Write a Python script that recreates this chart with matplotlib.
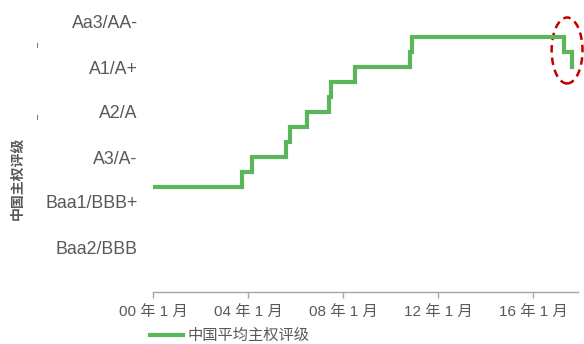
import matplotlib
matplotlib.use("Agg")
import matplotlib.pyplot as plt
import matplotlib.dates as mdates
from matplotlib.patches import Ellipse
from matplotlib.lines import Line2D
import pandas as pd

plt.rcParams['font.family'] = ['Liberation Sans', 'Noto Sans CJK SC', 'DejaVu Sans']

# Average sovereign rating score (one unit = one outlook notch)
change_dates = ['2000-01', '2003-10', '2004-03', '2005-08', '2005-10', '2006-07',
                '2007-06', '2007-07', '2008-07', '2010-11', '2010-12',
                '2017-05', '2017-09']
rating_score = [7, 8, 9, 10, 11, 12, 13, 14, 15, 16, 17, 16, 15]

rating_ticks = [3, 6, 9, 12, 15, 18]
rating_labels = ['Baa2/BBB', 'Baa1/BBB+', 'A3/A-', 'A2/A', 'A1/A+', 'Aa3/AA-']

year_ticks = ['2000-01', '2004-01', '2008-01', '2012-01', '2016-01']
year_labels = ['00 年 1 月', '04 年 1 月', '08 年 1 月', '12 年 1 月', '16 年 1 月']

series_name = '中国平均主权评级'
axis_title = '中国主权评级'

grey = '#595959'
green = '#5AB55B'

W, H = 584, 344
fig = plt.figure(figsize=(W / 100, H / 100), dpi=100)
ax = fig.add_axes([153 / W, 1 - 292 / H, (578 - 153) / W, (292 - 22) / H])

x = pd.to_datetime(change_dates)
ax.step(x, rating_score, where='post', color=green, lw=3.0,
        solid_joinstyle='miter', label=series_name)

ax.set_ylim(0, 18)
ax.set_xlim(pd.Timestamp('2000-01-01'), pd.Timestamp('2017-11-25'))

ax.set_yticks(rating_ticks)
ax.set_yticklabels(rating_labels)
ax.tick_params(axis='y', length=0, pad=11, labelsize=12.8, labelcolor=grey)

ax.set_xticks(pd.to_datetime(year_ticks))
ax.set_xticklabels(year_labels)
ax.tick_params(axis='x', direction='out', length=4, width=1, color='#A6A6A6',
               pad=5, labelsize=11, labelcolor=grey)

for s in ['left', 'right', 'top']:
    ax.spines[s].set_visible(False)
ax.spines['bottom'].set_color('#A6A6A6')
ax.spines['bottom'].set_linewidth(1)

# dashed highlight around the latest downgrade
cx = mdates.date2num(pd.Timestamp('2017-06-10'))
ell = Ellipse((cx, 16.1), width=1.3 * 365.25, height=4.4, fill=False,
              edgecolor='#C00000', lw=1.8, linestyle=(0, (3, 2)), clip_on=False)
ax.add_patch(ell)

fig.text(17 / W, 1 - 178 / H, axis_title, rotation=90, ha='center', va='center',
         fontsize=10, fontweight='bold', color=grey)

for yy in (45, 117):
    fig.add_artist(Line2D([37 / W, 37 / W], [1 - (yy - 2) / H, 1 - (yy + 2) / H],
                          color='#7F7F7F', lw=0.8))

ax.legend(loc='center left', bbox_to_anchor=(150 / W, 1 - 336 / H),
          bbox_transform=fig.transFigure, frameon=False, borderpad=0,
          borderaxespad=0, handlelength=2.15, handletextpad=0.3,
          prop={'size': 11}, labelcolor=grey)

fig.savefig('out.png', dpi=100)
